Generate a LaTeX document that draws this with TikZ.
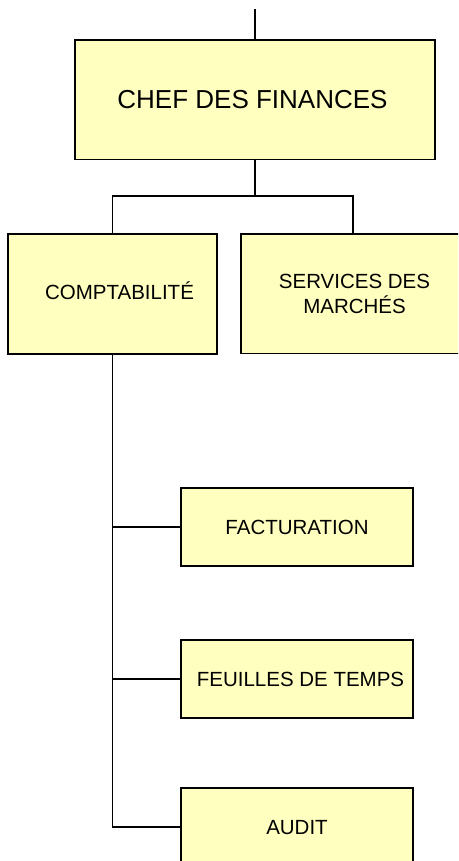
\documentclass[tikz,border=0pt]{standalone}
\usepackage{fontspec}
\setmainfont{Liberation Sans}
\begin{document}
\definecolor{boxfill}{HTML}{FFFFC0}
\begin{tikzpicture}[x=1pt,y=-1pt,
  orgbox/.style={draw=black, line width=1.6pt, fill=boxfill, inner sep=0pt},
  bigtext/.style={font=\fontsize{26}{30}\selectfont, text height=18.6pt, text depth=0pt},
  smalltext/.style={font=\fontsize{20.5}{25}\selectfont, text height=14.7pt, text depth=0pt},
  link/.style={draw=black, line width=1.6pt}]
  % page frame; boxes running past the edge are cut off
  \clip (0,0) rectangle (458,861);

  % head of the chart
  \node[orgbox, bigtext, minimum width=360pt, minimum height=119.3pt]
    (chef) at (255,99.7) {\hspace*{-5pt}CHEF DES FINANCES};
  \coordinate (top) at (255,9.3);
  \draw[link] (top) -- (chef.north);

  % second level
  \node[orgbox, minimum width=209pt, minimum height=120pt,
    label={[smalltext, xshift=7pt, yshift=1.5pt]center:COMPTABILITÉ}]
    (compta) at (112.5,294) {};
  \node[orgbox, minimum width=224pt, minimum height=119.5pt,
    label={[font=\fontsize{20.5}{25}\selectfont, align=center, xshift=1.5pt, yshift=-0.3pt]center:SERVICES DES\\MARCHÉS}]
    (marches) at (353,293.75) {};

  \coordinate (split) at (255,196);
  \draw[link] (chef.south) -- (split);
  \draw[link] (compta.north) |- (split) -| (marches.north);

  % third level under the accounting box
  \node[orgbox, smalltext, minimum width=232pt, minimum height=78pt]
    (factu) at (297,527) {FACTURATION};
  \node[orgbox, smalltext, minimum width=232pt, minimum height=78pt]
    (feuilles) at (297,679) {\hspace*{7pt}FEUILLES DE TEMPS};
  \node[orgbox, smalltext, minimum width=232pt, minimum height=78pt]
    (audit) at (297,827) {AUDIT};

  \draw[link] (compta.south) -- (compta.south |- audit.west) -- (audit.west);
  \draw[link] (compta.south |- factu.west) -- (factu.west);
  \draw[link] (compta.south |- feuilles.west) -- (feuilles.west);
\end{tikzpicture}
\end{document}
